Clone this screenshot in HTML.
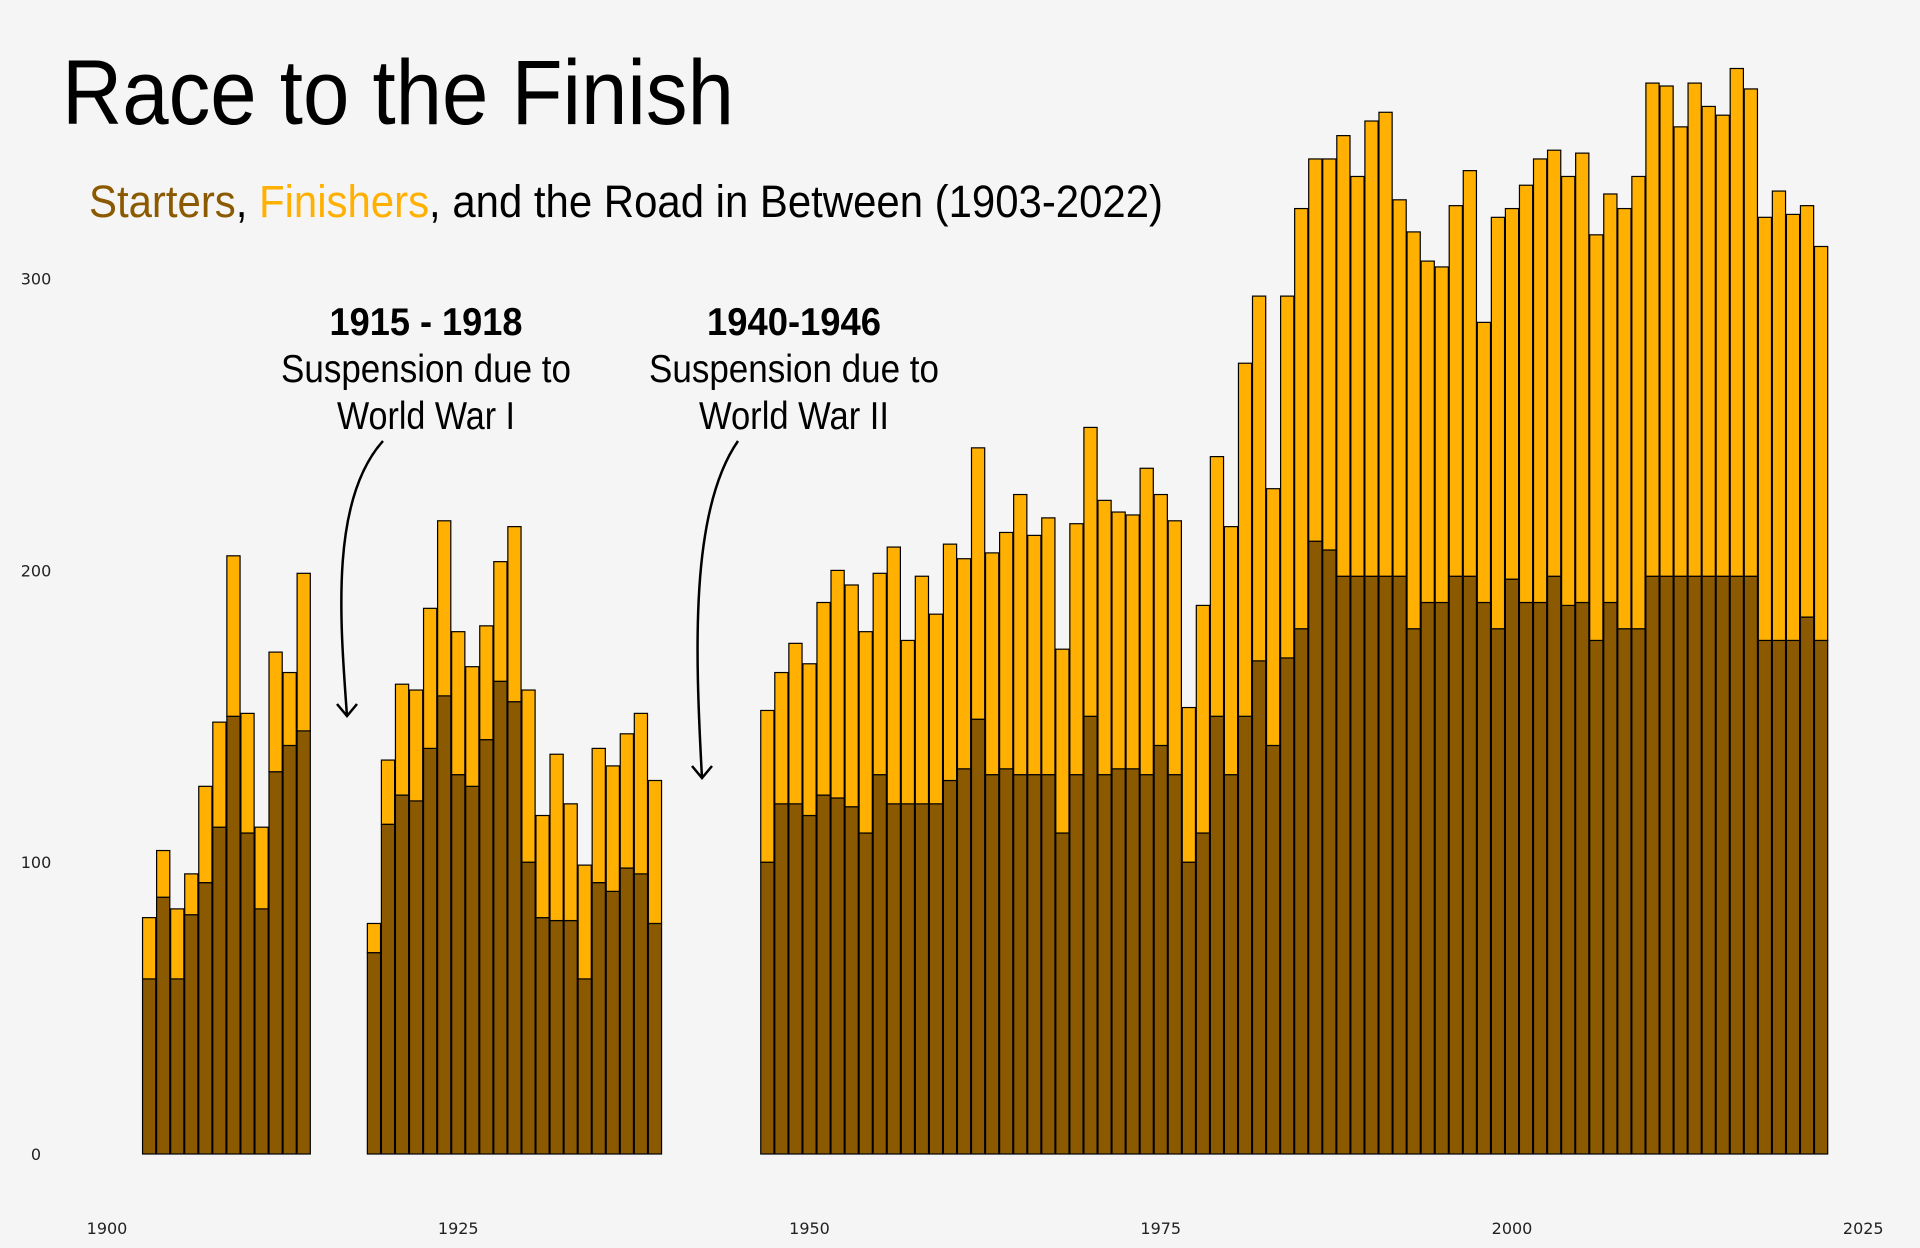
<!DOCTYPE html>
<html><head><meta charset="utf-8"><title>Race to the Finish</title>
<style>
html,body{margin:0;padding:0;background:#f5f5f5;}
svg{display:block;}
text{font-family:"Liberation Sans Narrow","Liberation Sans",sans-serif;}
.tick{font-family:"DejaVu Sans","Liberation Sans",sans-serif;font-size:16px;fill:#222;}
</style></head>
<body>
<svg id="chart" width="1920" height="1248" viewBox="0 0 1920 1248" xmlns="http://www.w3.org/2000/svg">
<rect x="0" y="0" width="1920" height="1248" fill="#f5f5f5"/>
<text x="62" y="124" font-size="92" fill="#000" textLength="672" lengthAdjust="spacingAndGlyphs">Race to the Finish</text>
<text x="89" y="217" font-size="45" textLength="1074" lengthAdjust="spacingAndGlyphs"><tspan fill="#8b5a00">Starters</tspan><tspan fill="#000">, </tspan><tspan fill="#ffb000">Finishers</tspan><tspan fill="#000">, and the Road in Between (1903-2022)</tspan></text>
<g id="bars"></g>
<g id="yaxis"></g>
<g id="xaxis"></g>
<g>
<text x="426" y="335" font-size="39" font-weight="bold" text-anchor="middle" textLength="193" lengthAdjust="spacingAndGlyphs">1915 - 1918</text>
<text x="426" y="382" font-size="39" text-anchor="middle" textLength="290" lengthAdjust="spacingAndGlyphs">Suspension due to</text>
<text x="426" y="429" font-size="39" text-anchor="middle" textLength="178" lengthAdjust="spacingAndGlyphs">World War I</text>
<path d="M383,441 C330,500 340,620 347,716" fill="none" stroke="#000" stroke-width="2.5"/>
<path d="M337,704 L347,716 L357,704" fill="none" stroke="#000" stroke-width="2.5"/>
</g>
<g>
<text x="794" y="335" font-size="39" font-weight="bold" text-anchor="middle" textLength="174" lengthAdjust="spacingAndGlyphs">1940-1946</text>
<text x="794" y="382" font-size="39" text-anchor="middle" textLength="290" lengthAdjust="spacingAndGlyphs">Suspension due to</text>
<text x="794" y="429" font-size="39" text-anchor="middle" textLength="190" lengthAdjust="spacingAndGlyphs">World War II</text>
<path d="M738,441 C690,510 695,650 702,778" fill="none" stroke="#000" stroke-width="2.5"/>
<path d="M692,766 L702,778 L712,766" fill="none" stroke="#000" stroke-width="2.5"/>
</g>
</svg>
<script>
const years = [1903,1904,1905,1906,1907,1908,1909,1910,1911,1912,1913,1914,
1919,1920,1921,1922,1923,1924,1925,1926,1927,1928,1929,1930,1931,1932,1933,1934,1935,1936,1937,1938,1939,
1947,1948,1949,1950,1951,1952,1953,1954,1955,1956,1957,1958,1959,1960,1961,1962,1963,1964,1965,1966,1967,1968,1969,1970,1971,1972,1973,1974,1975,1976,1977,1978,1979,1980,1981,1982,1983,1984,1985,1986,1987,1988,1989,1990,1991,1992,1993,1994,1995,1996,1997,1998,1999,2000,2001,2002,2003,2004,2005,2006,2007,2008,2009,2010,2011,2012,2013,2014,2015,2016,2017,2018,2019,2020,2021,2022];
const starters = [60,88,60,82,93,112,150,110,84,131,140,145,
69,113,123,121,139,157,130,126,142,162,155,100,81,80,80,60,93,90,98,96,79,
100,120,120,116,123,122,119,110,130,120,120,120,120,128,132,149,130,132,130,130,130,110,130,150,130,132,132,130,140,130,100,110,150,130,150,169,140,170,180,210,207,198,198,198,198,198,180,189,189,198,198,189,180,197,189,189,198,188,189,176,189,180,180,198,198,198,198,198,198,198,198,176,176,176,184,176];
const finishers = [21,16,24,14,33,36,55,41,28,41,25,54,
10,22,38,38,48,60,49,41,39,41,60,59,35,57,40,39,46,43,46,55,49,
52,45,55,52,66,78,76,69,69,88,56,78,65,81,72,93,76,81,96,82,88,63,86,99,94,88,87,105,86,87,53,78,89,85,121,125,88,124,144,131,134,151,137,156,159,129,136,117,115,127,139,96,141,127,143,152,146,147,154,139,140,144,155,169,168,154,169,161,158,174,167,145,154,146,141,135];
const yTicks = [0,100,200,300];
const xTicks = [1900,1925,1950,1975,2000,2025];

const NS = "http://www.w3.org/2000/svg";
const X0 = 107, STEP = 14.05, Y0 = 1154, PER = 2.918;
function xScale(yr){ return X0 + (yr - 1900) * STEP; }
function yScale(v){ return Y0 - v * PER; }
const bw = 13.2;
const gb = document.getElementById('bars');
years.forEach((yr, i) => {
  const cx = xScale(yr);
  const s = starters[i], f = finishers[i];
  const r1 = document.createElementNS(NS, 'rect');
  r1.setAttribute('x', cx - bw/2); r1.setAttribute('width', bw);
  r1.setAttribute('y', yScale(s)); r1.setAttribute('height', yScale(0) - yScale(s));
  r1.setAttribute('fill', '#8b5a00'); r1.setAttribute('stroke', '#000'); r1.setAttribute('stroke-width', '1.2');
  
  
  gb.appendChild(r1);
  const r2 = document.createElementNS(NS, 'rect');
  r2.setAttribute('x', cx - bw/2); r2.setAttribute('width', bw);
  r2.setAttribute('y', yScale(s + f)); r2.setAttribute('height', yScale(s) - yScale(s + f));
  r2.setAttribute('fill', '#ffb000'); r2.setAttribute('stroke', '#000'); r2.setAttribute('stroke-width', '1.2');
  
  
  gb.appendChild(r2);
});
const gy = document.getElementById('yaxis');
yTicks.forEach(v => {
  const t = document.createElementNS(NS, 'text');
  t.setAttribute('x', 36); t.setAttribute('y', yScale(v) + 6);
  t.setAttribute('text-anchor', 'middle'); t.setAttribute('class', 'tick');
  t.textContent = v;
  
  
  gy.appendChild(t);
});
const gx = document.getElementById('xaxis');
xTicks.forEach(v => {
  const t = document.createElementNS(NS, 'text');
  t.setAttribute('x', xScale(v)); t.setAttribute('y', 1234);
  t.setAttribute('text-anchor', 'middle'); t.setAttribute('class', 'tick');
  t.textContent = v;
  
  
  gx.appendChild(t);
});
</script>
</body></html>
